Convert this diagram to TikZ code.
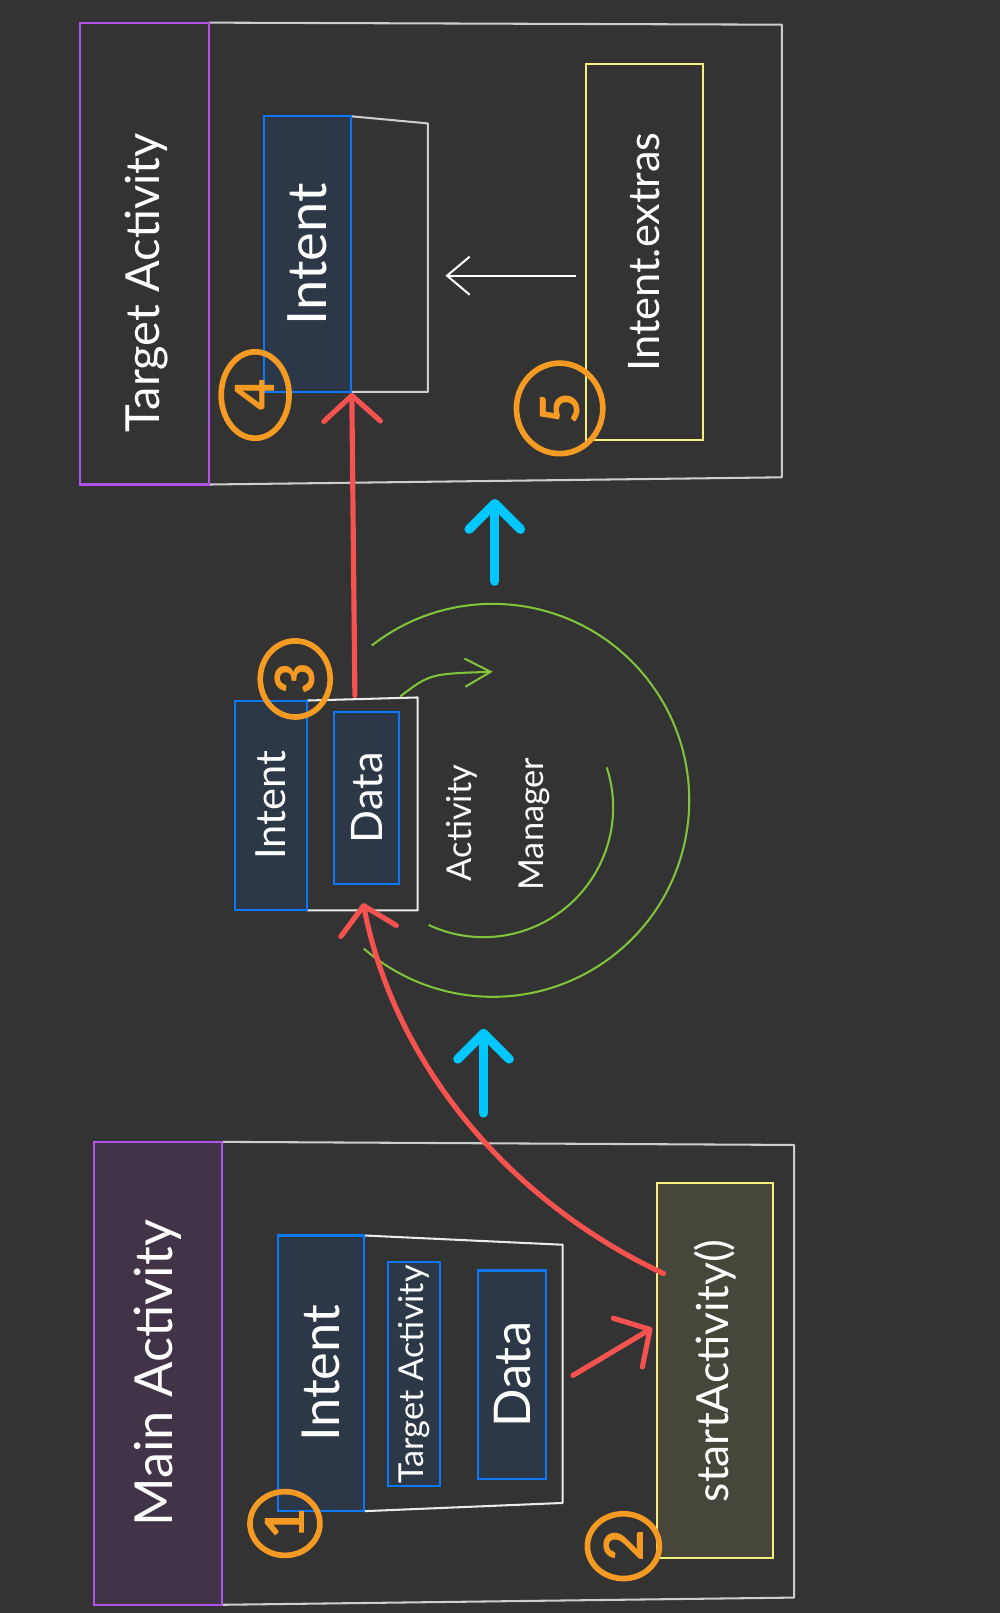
\documentclass[tikz,border=0pt]{standalone}
\usepackage{fontspec}
\setmainfont{Lato}
\usetikzlibrary{arrows.meta,shapes.geometric}

\definecolor{bgcol}{RGB}{51,51,51}
\definecolor{purpleline}{RGB}{178,82,232}
\definecolor{purplefill}{RGB}{65,52,72}
\definecolor{blueline}{RGB}{12,120,248}
\definecolor{bluefill}{RGB}{44,55,71}
\definecolor{greyline}{RGB}{205,205,205}
\definecolor{yellowline}{RGB}{245,240,122}
\definecolor{yellowfill}{RGB}{71,70,58}
\definecolor{orangeline}{RGB}{245,155,35}
\definecolor{redline}{RGB}{245,82,80}
\definecolor{cyanline}{RGB}{0,200,255}
\definecolor{greenline}{RGB}{130,195,60}

\tikzset{
  box/.style={draw, line width=0.04cm, inner sep=0pt, text=white},
  purplebox/.style={box, draw=purpleline},
  bluebox/.style={box, draw=blueline, fill=bluefill},
  yellowbox/.style={box, draw=yellowline},
  txt/.style={text=white, inner sep=0pt},
  outline/.style={draw=greyline, line width=0.04cm, line join=round},
  envline/.style={draw=white!92!black, line width=0.04cm, line join=round},
  numcirc/.style={ellipse, draw=orangeline, line width=0.11cm, inner sep=0pt,
    text=orangeline, font=\fontsize{30}{32}\selectfont\bfseries},
  redarrow/.style={draw=redline, line width=0.1cm, line cap=round,
    -{Straight Barb[length=0.5cm, width=1.1cm, round]}},
  cyanarrow/.style={draw=cyanline, line width=0.18cm, line cap=round,
    -{Straight Barb[length=0.5cm, width=1.0cm, round]}},
  whitearrow/.style={draw=white, line width=0.04cm,
    -{Straight Barb[length=0.44cm, width=0.74cm]}},
  greenarc/.style={draw=greenline, line width=0.04cm}
}

\begin{document}
\begin{tikzpicture}[x=0.02cm,y=-0.02cm]
\fill[bgcol] (0,0) rectangle (972,1568);
\useasboundingbox (0,0) rectangle (972,1568);

% target activity
\draw[outline] (203,22) -- (760,24) -- (760,464) -- (203,471);
\node[purplebox, minimum width=2.5cm, minimum height=8.98cm] (tgtbox) at (140.5,246.5) {};
\node[txt, font=\fontsize{26}{30}\selectfont] (tgttitle) at (142,275) {\rotatebox{90}{Target Activity}};
\draw[outline] (341,113) -- (416,120) -- (416,381) -- (341,381);
\node[bluebox, minimum width=1.68cm, minimum height=5.36cm, font=\fontsize{30}{34}\selectfont] (intentT) at (299,247) {\rotatebox{90}{Intent}};
\node[yellowbox, minimum width=2.26cm, minimum height=7.32cm, font=\fontsize{24}{28}\selectfont] (extrasT) at (626.5,245) {\rotatebox{90}{Intent.extras}};
\coordinate (xstart) at (560,268);
\coordinate (xend) at (433,268);
\draw[whitearrow] (xstart) -- (xend);
\node[numcirc, minimum width=1.32cm, minimum height=1.68cm] (n4) at (248,384) {\rotatebox{90}{4}};
\node[numcirc, minimum width=1.68cm, minimum height=1.76cm] (n5) at (544,397) {\rotatebox{90}{5}};

% activity manager
\draw[greenarc] (470,785) ++(-18:126) arc[start angle=-18, end angle=115, radius=126];
\draw[greenarc] (479,778) ++(-128:191) arc[start angle=-128, end angle=131, radius=191];
\coordinate (gstart) at (389,677);
\coordinate (gend) at (479,653);
\draw[greenarc, -{Straight Barb[length=0.5cm, width=0.55cm]}] (gstart) .. controls (418,655) .. (gend);
\draw[envline] (298,681) -- (406,678) -- (406,885) -- (298,885);
\node[bluebox, minimum width=1.4cm, minimum height=4.08cm, font=\fontsize{23}{26}\selectfont] (intentM) at (263,783) {\rotatebox{90}{Intent}};
\node[bluebox, minimum width=1.26cm, minimum height=3.34cm, font=\fontsize{24}{28}\selectfont] (dataM) at (356.5,775.5) {\rotatebox{90}{Data}};
\node[txt, font=\fontsize{19}{22}\selectfont] (amtext1) at (449,800) {\rotatebox{90}{Activity}};
\node[txt, font=\fontsize{19}{22}\selectfont] (amtext2) at (519,801) {\rotatebox{90}{Manager}};
\node[numcirc, minimum width=1.36cm, minimum height=1.48cm] (n3) at (287,660) {\rotatebox{90}{3}};

% main activity
\draw[outline] (216,1110) -- (772,1113) -- (772,1553) -- (216,1560);
\node[purplebox, fill=purplefill, minimum width=2.5cm, minimum height=9cm, font=\fontsize{29}{33}\selectfont] (mainbox) at (153.5,1335) {\rotatebox{90}{Main Activity}};
\draw[envline] (354,1201) -- (547,1210) -- (547,1461) -- (354,1469);
\node[bluebox, minimum width=1.68cm, minimum height=5.36cm, font=\fontsize{29}{33}\selectfont] (intentB) at (312,1335) {\rotatebox{90}{Intent}};
\node[bluebox, minimum width=1.02cm, minimum height=4.36cm, font=\fontsize{19}{22}\selectfont] (targetB) at (402.5,1336) {\rotatebox{90}{Target Activity}};
\node[bluebox, minimum width=1.32cm, minimum height=4.06cm, font=\fontsize{28}{32}\selectfont] (dataB) at (498,1336.5) {\rotatebox{90}{Data}};
\node[yellowbox, fill=yellowfill, minimum width=2.24cm, minimum height=7.3cm, font=\fontsize{24.5}{28}\selectfont] (startB) at (695,1332.5) {\rotatebox{90}{startActivity()}};
\node[numcirc, minimum width=1.36cm, minimum height=1.24cm] (n1) at (277,1481) {\rotatebox{90}{1}};
\node[numcirc, minimum width=1.4cm, minimum height=1.26cm] (n2) at (606,1503) {\rotatebox{90}{2}};

% arrows
\coordinate (sstart) at (557,1337);
\coordinate (send) at (634,1291);
\draw[redarrow] (sstart) -- (send);
\coordinate (cstart) at (645,1238);
\coordinate (envMbot) at (353,878);
\draw[redarrow] (cstart) .. controls (500,1170) and (385,1040) .. (envMbot);
\coordinate (envMtop) at (345,676);
\draw[redarrow] (envMtop) -- (intentT.south east);
\coordinate (c1start) at (470,1082);
\coordinate (c1end) at (470,1000);
\draw[cyanarrow] (c1start) -- (c1end);
\coordinate (c2start) at (481,565);
\coordinate (c2end) at (481,485);
\draw[cyanarrow] (c2start) -- (c2end);
\end{tikzpicture}
\end{document}
